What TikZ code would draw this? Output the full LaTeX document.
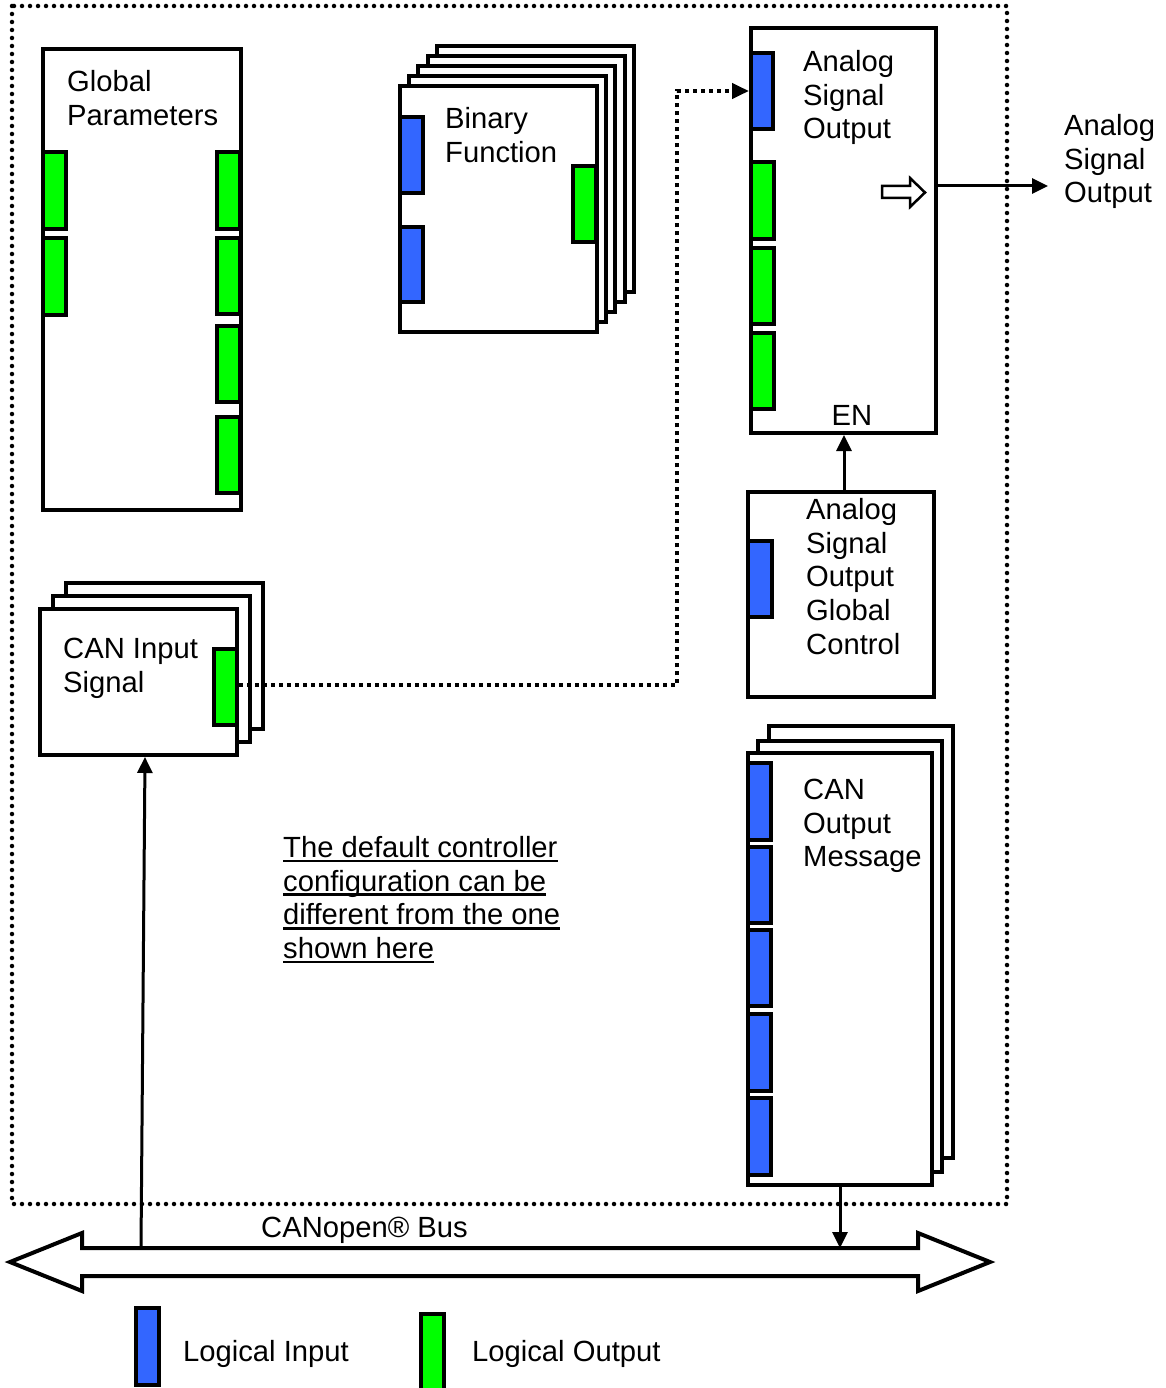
\documentclass[tikz,border=0pt]{standalone}
\usepackage{fontspec}
\setmainfont{Liberation Sans}
\usetikzlibrary{arrows.meta,fit}
\definecolor{inblue}{HTML}{3366FF}
\definecolor{outgreen}{HTML}{00FF00}
\newcommand\myul[1]{\setbox0\hbox{#1}\rlap{\rule[-5pt]{\wd0}{2.8pt}}\box0}
\newcommand\mkbox[6]{\node[#1,fit={(#3,#4)(#5,#6)}] (#2) {};}
\begin{document}
\begin{tikzpicture}[x=1pt,y=-1pt,
  blk/.style={draw,line width=4pt,fill=white,inner sep=0pt},
  inport/.style={draw,line width=4pt,fill=inblue,inner sep=0pt},
  outport/.style={draw,line width=4pt,fill=outgreen,inner sep=0pt},
  lbl/.style={anchor=north west,inner sep=0pt,align=left,font=\fontsize{29.2}{33.7}\selectfont},
  frameline/.style={line width=4.5pt,dash pattern=on 0pt off 8pt,line cap=round},
  dotconn/.style={line width=4pt,dash pattern=on 4pt off 4pt,-{Triangle[length=17pt,width=15pt]}},
  conn/.style={line width=3pt,-{Triangle[length=16pt,width=15pt]}},
]
\fill[white] (0,0) rectangle (1165,1388);
\useasboundingbox (0,0) rectangle (1165,1388);

% outer dotted frame
\draw[frameline] (12,6) rectangle (1007,1204);

% Global Parameters
\mkbox{blk}{gp}{43}{49}{241}{510}
\mkbox{outport}{gpl1}{43}{152}{66}{229}
\mkbox{outport}{gpl2}{43}{238}{66}{315}
\mkbox{outport}{gpr1}{217}{152}{240}{229}
\mkbox{outport}{gpr2}{217}{238}{240}{314}
\mkbox{outport}{gpr3}{217}{326}{240}{402}
\mkbox{outport}{gpr4}{217}{417}{240}{493}
\node[lbl] (gpt) at (67,70) {Global\\Parameters};

% Binary Function stack
\foreach \i in {4,3,2,1} {
  \node[blk,fit={({400+9.2*\i},{86-10*\i})({597+9.2*\i},{332-10*\i})}] (bf\i) {};
}
\mkbox{blk}{bf}{400}{86}{597}{332}
\mkbox{inport}{bfin1}{400}{117}{423}{193}
\mkbox{inport}{bfin2}{400}{227}{423}{302}
\mkbox{outport}{bfout}{573}{166}{596}{242}
\node[lbl] (bft) at (445,107) {Binary\\Function};

% Analog Signal Output
\mkbox{blk}{aso}{751}{28}{936}{433}
\mkbox{inport}{asoin}{751}{53}{773}{129}
\mkbox{outport}{aso1}{751}{162}{774}{239}
\mkbox{outport}{aso2}{751}{248}{774}{324}
\mkbox{outport}{aso3}{751}{333}{774}{409}
\node[lbl] (asot) at (803,50) {Analog\\Signal\\Output};
\node[anchor=base,inner sep=0pt,font=\fontsize{29.2}{33.7}\selectfont] (en) at (852,425) {EN};
\draw[line width=2.5pt,fill=white] (882,186)--(910,186)--(910,178)--(925,192.5)--(910,207)--(910,198)--(882,198)--cycle;
\coordinate (out) at (1048,186);
\draw[conn] (aso.east |- out) -- (out);
\node[lbl] (outt) at (1064,114) {Analog\\Signal\\Output};

% Analog Signal Output Global Control
\mkbox{blk}{gc}{748}{492}{934}{697}
\mkbox{inport}{gcin}{748}{541}{772}{617}
\node[lbl] (gct) at (806,498) {Analog\\Signal\\Output\\Global\\Control};
\draw[conn] ([xshift=3pt]gc.north) -- ([xshift=3pt]gc.north |- aso.south);

% CAN Input Signal stack
\mkbox{blk}{cis2}{66}{583}{263}{729}
\mkbox{blk}{cis1}{53}{596}{250}{742}
\mkbox{blk}{cis}{40}{609}{237}{755}
\mkbox{outport}{cisout}{214}{649}{237}{725}
\node[lbl] (cist) at (63,638) {CAN Input\\Signal};

% dotted connection
\coordinate (bendx) at (677,400);
\draw[dotconn] ([yshift=2pt]cisout.east) -| (bendx) |- (asoin.west);

% CAN Output Message stack
\mkbox{blk}{com2}{769}{726}{953}{1158}
\mkbox{blk}{com1}{758}{741}{942}{1172}
\mkbox{blk}{com}{748}{753}{932}{1185}
\mkbox{inport}{comin1}{748}{763}{771}{840}
\mkbox{inport}{comin2}{748}{847}{771}{923}
\mkbox{inport}{comin3}{748}{930}{771}{1006}
\mkbox{inport}{comin4}{748}{1014}{771}{1091}
\mkbox{inport}{comin5}{748}{1098}{771}{1175}
\node[lbl] (comt) at (803,779) {CAN\\Output\\Message};

% note
\node[lbl] (note) at (283,836) {\myul{The default controller}\\\myul{configuration can be}\\\myul{different from the one}\\\myul{shown here}};

% CANopen bus
\draw[line width=4pt,line join=miter] (10,1262) -- (82,1233) -- (82,1248) -- (918,1248) -- (918,1233) -- (990,1262) -- (918,1291) -- (918,1276) -- (82,1276) -- (82,1291) -- cycle;
\coordinate (busL) at (141,1248);
\node[lbl] (bust) at (261,1217) {CANopen® Bus};
\draw[conn] (busL) -- ([xshift=6.5pt]cis.south);
\draw[conn] (com.south) -- (com.south |- busL);

% legend
\mkbox{inport}{legin}{136}{1308}{159}{1385}
\node[lbl] (legint) at (183,1340) {Logical Input};
\mkbox{outport}{legout}{421}{1314}{444}{1395}
\node[lbl] (legoutt) at (472,1340) {Logical Output};
\end{tikzpicture}
\end{document}
